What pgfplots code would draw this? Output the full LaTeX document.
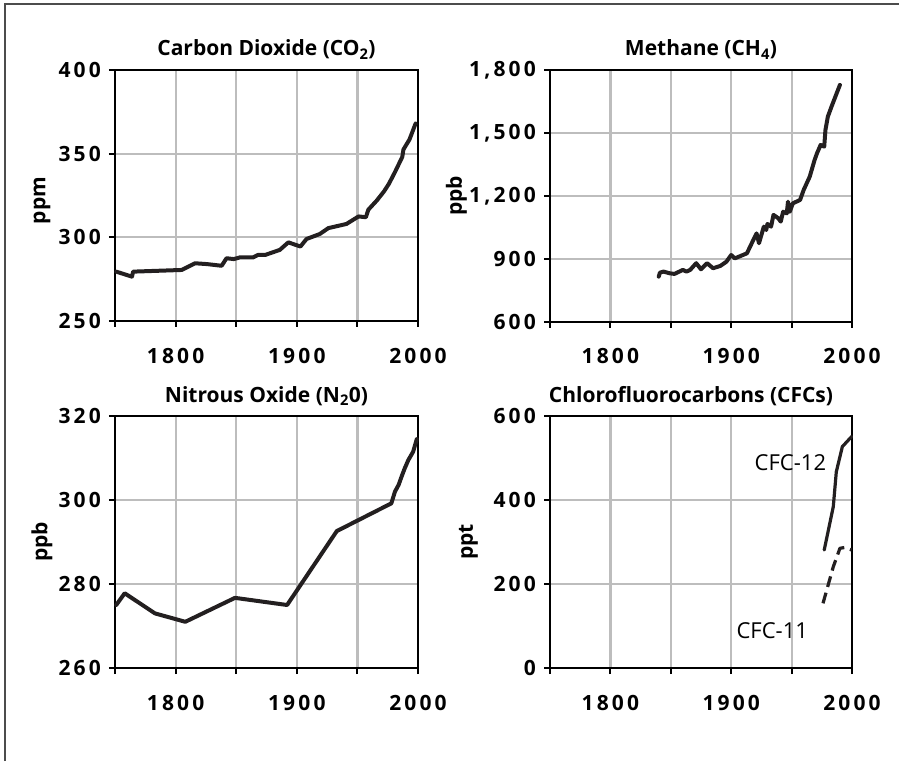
\documentclass[border=0pt]{standalone}
\usepackage{fontspec}
\setmainfont{Open Sans}
\usepackage{pgfplots}
\pgfplotsset{compat=1.18}
\definecolor{ink}{HTML}{231F20}
\definecolor{gridc}{HTML}{BDBDBD}
\newcommand{\tickf}{\bfseries\fontsize{21}{25}\selectfont\addfontfeature{LetterSpace=15}}
\newcommand{\titlef}{\bfseries\fontsize{21}{25}\selectfont}
\pgfplotsset{
  panel/.style={
    scale only axis, width=303pt, height=251pt,
    anchor=south west,
    xmin=1750, xmax=2000,
    xtick={1750,1800,1850,1900,1950,2000},
    xticklabels={,1800,,1900,,2000},
    tick pos=left, tick align=outside,
    major tick length=6pt,
    every tick/.style={black, line width=2pt},
    axis line style={black, line width=2.6pt},
    grid=major,
    major grid style={gridc, line width=2.2pt},
    xticklabel style={font=\tickf, anchor=base, inner sep=0pt, yshift=-36pt},
    yticklabel style={font=\tickf, anchor=east, inner sep=0pt, xshift=-8pt},
    every axis title/.style={at={(axis description cs:0.5,1)}, anchor=base, yshift=14pt, font=\titlef},
    every axis y label/.style={rotate=90, anchor=center, font=\titlef},
    clip=false,
  },
  dat/.style={ink, line width=4pt, line join=round, line cap=round, mark=none},
}
\begin{document}
\begin{tikzpicture}[x=1pt,y=1pt]
\path[use as bounding box] (0,0) rectangle (899,761);
\draw[gray!60!black, line width=1.3pt] (5,0) -- (5,757) -- (899,757);

% Carbon dioxide
\begin{axis}[panel, at={(115pt,440pt)},
  ymin=250, ymax=400, ytick={250,300,350,400}, yticklabels={250,300,350,400},
  title={Carbon Dioxide (CO\textsubscript{2})},
  ylabel={ppm}, y label style={at={(axis description cs:-0.241,0.48)}}]
\addplot[dat] coordinates {
(1751,279.5)(1764,276.5)(1765,279.5)(1805,280.5)(1816,284.5)(1826,284)
(1838,283)(1842,287.5)(1848,287)(1853,288)(1864,288)(1868,289.5)(1874,289.5)
(1886,292.5)(1893,297)(1903,294.5)(1908,299)(1919,302)(1926,305.5)(1941,308)
(1951,312.5)(1957,312)(1959,316.5)(1966,322)(1972,327.5)(1976,332)(1981,339)
(1987,348)(1988,352.5)(1993,358.5)(1998,368)};
\end{axis}

% Methane
\begin{axis}[panel, at={(550pt,439pt)}, width=302pt, height=252pt,
  ymin=600, ymax=1800, ytick={600,900,1200,1500,1800}, yticklabels={600,900,{1,200},{1,500},{1,800}},
  title={Methane (CH\textsubscript{4})},
  ylabel={ppb}, y label style={at={(axis description cs:-0.31,0.5)}}]
\addplot[dat] coordinates {
(1840,816)(1841,835)(1844,840)(1849,832)(1853,829)(1860,848)(1863,840)(1866,848)
(1871,880)(1875,851)(1880,880)(1885,856)(1891,867)(1896,887)(1900,919)(1903,903)
(1913,927)(1917,975)(1921,1022)(1923,975)(1927,1054)(1929,1038)(1930,1067)(1933,1054)
(1935,1110)(1939,1094)(1941,1078)(1943,1125)(1946,1117)(1947,1173)(1948.5,1125)
(1951,1165)(1957,1181)(1960,1229)(1965,1292)(1969,1371)(1971,1403)(1974,1443)
(1977,1435)(1978,1514)(1980,1578)(1983,1625)(1990,1729)};
\end{axis}

% Nitrous oxide
\begin{axis}[panel, at={(115pt,93pt)}, height=252pt,
  ymin=260, ymax=320, ytick={260,280,300,320}, yticklabels={260,280,300,320},
  title={Nitrous Oxide (N\textsubscript{2}0)},
  ylabel={ppb}, y label style={at={(axis description cs:-0.241,0.5)}}]
\addplot[dat] coordinates {
(1751,275)(1758,277.8)(1783,273)(1808,271)(1849,276.7)(1892,275)(1933,292.6)
(1978,299.2)(1981,302)(1984,303.6)(1987,306)(1989,307.5)(1992,309.5)(1996,311.5)(1999,314.5)};
\end{axis}

% CFCs
\begin{axis}[panel, at={(550pt,93pt)}, width=302pt, height=252pt,
  ymin=0, ymax=600, ytick={0,200,400,600}, yticklabels={0,200,400,600},
  title={Chlorofluorocarbons (CFCs)}, title style={xshift=-10pt},
  ylabel={ppt}, y label style={at={(axis description cs:-0.27,0.5)}}]
\addplot[dat, line width=3.2pt] coordinates {
(1977,281)(1984.5,384)(1987,467)(1992,527)(1999.7,551)};
\addplot[dat, line width=3.2pt, line cap=butt, dash pattern=on 11pt off 6pt] coordinates {
(1976,154)(1984.5,241)(1990,285)(1994,287)(1999.7,281)};
\node[font=\fontsize{22}{26}\selectfont] at (axis cs:1949,490) {CFC-12};
\node[font=\fontsize{22}{26}\selectfont] at (axis cs:1934,90) {CFC-11};
\end{axis}
\end{tikzpicture}
\end{document}
